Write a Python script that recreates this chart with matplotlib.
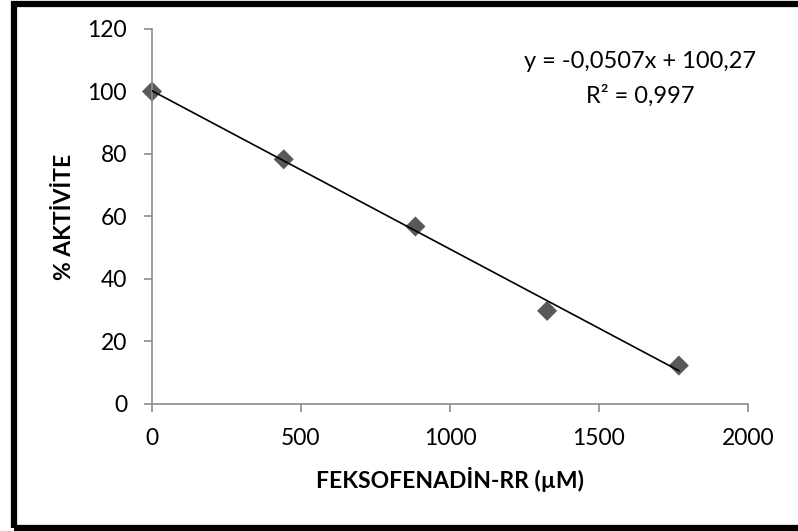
import matplotlib.pyplot as plt
import numpy as np
from matplotlib.patches import Rectangle

plt.rcParams['font.family'] = ['Lato', 'DejaVu Sans']

# konsantrasyon (µM) ve % aktivite
konsantrasyon = [0, 442, 884, 1326, 1768]
aktivite = [100, 78.3, 56.8, 29.8, 12.3]
x_ticks = [0, 500, 1000, 1500, 2000]
y_ticks = [0, 20, 40, 60, 80, 100, 120]

fig = plt.figure(figsize=(7.98, 5.31), dpi=100)
ax = fig.add_axes([0.1905, 0.2392, 0.7468, 0.7062])

# doğrusal eğilim çizgisi
egim, kesisim = np.polyfit(konsantrasyon, aktivite, 1)
xs = np.array([min(konsantrasyon), max(konsantrasyon)])
ax.plot(xs, egim * xs + kesisim, color='black', lw=1.2, zorder=3)

ax.scatter(konsantrasyon, aktivite, marker='D', s=105, color='#595959',
           edgecolors='none', zorder=2, clip_on=False)

ax.set_xlim(0, 2000)
ax.set_ylim(0, 120)
ax.set_xticks(x_ticks)
ax.set_yticks(y_ticks)
for s in ['top', 'right']:
    ax.spines[s].set_visible(False)
for s in ['left', 'bottom']:
    ax.spines[s].set_color('#8c8c8c')
    ax.spines[s].set_linewidth(1.2)
ax.tick_params(direction='out', length=6, width=1.2, color='#8c8c8c',
               labelsize=16.5)
ax.tick_params(axis='x', pad=11)
ax.tick_params(axis='y', pad=12)

ax.set_xlabel('FEKSOFENADİN-RR (µM)', fontsize=16.5, fontweight='bold', labelpad=13)
ax.set_ylabel('% AKTİVİTE', fontsize=16.5, fontweight='bold', labelpad=9)

ax.text(0.819, 0.912, 'y = -0,0507x + 100,27', transform=ax.transAxes,
        ha='center', va='center', fontsize=17)
ax.text(0.819, 0.821, 'R² = 0,997', transform=ax.transAxes,
        ha='center', va='center', fontsize=17)

# dış çerçeve
fig.patches.append(Rectangle((0.018, 0.006), 1.0, 0.986, transform=fig.transFigure,
                             fill=False, edgecolor='black', lw=4.5))

plt.savefig('out.png', dpi=100)
